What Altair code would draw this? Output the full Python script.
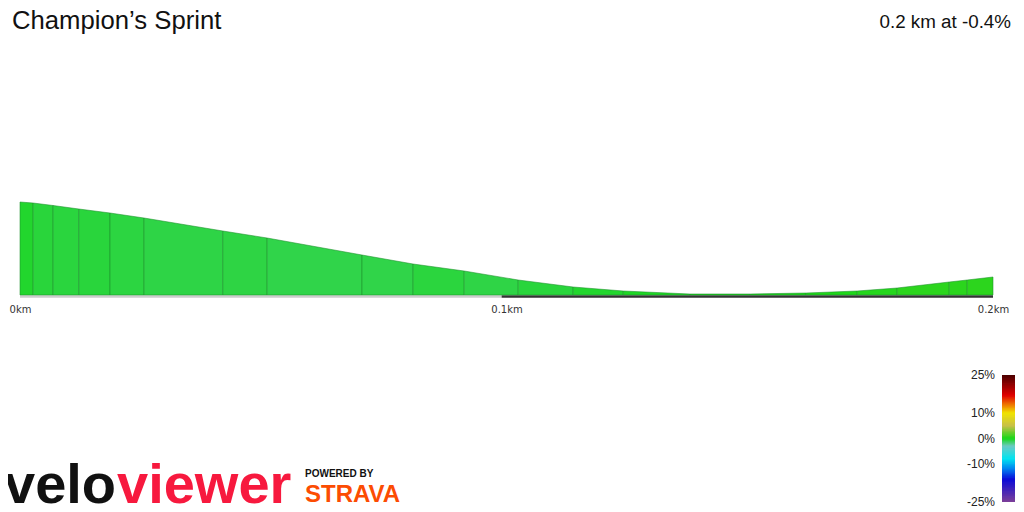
import altair as alt
import pandas as pd

# ---- data ----
title_text = "Champion\u2019s Sprint"
summary_text = "0.2 km at -0.4%"

# segment boundary distances (km) and elevations (m)
dist_km = [0, 0.0027, 0.0068, 0.0121, 0.0185, 0.0255, 0.0417, 0.0508, 0.0703, 0.0808,
           0.0913, 0.1024, 0.1137, 0.1240, 0.1377, 0.1501, 0.1616, 0.1721, 0.1803,
           0.1910, 0.1947, 0.2]
elev_m = [20.93, 20.92, 20.895, 20.86, 20.82, 20.77, 20.64, 20.57, 20.40, 20.31,
          20.24, 20.15, 20.08, 20.04, 20.01, 20.01, 20.02, 20.04, 20.07, 20.13,
          20.15, 20.18]
base_elev = 20.0

# strip under the profile (light part, dark part)
strip_light = [0, 0.099]
strip_dark = [0.099, 0.2]

# gradient colour scale (percent)
grad_domain = [-25, -16, -12, -8, -3, 0, 5, 10, 13, 17, 25]
grad_range = ["#7d3f98", "#0a0ad8", "#0080f0", "#00e4f0", "#6ccac4", "#18d818",
              "#c8c048", "#f0e400", "#f08000", "#e00000", "#4a0000"]
legend_values = [25, 10, 0, -10, -25]
tick_values = [0, 0.1, 0.2]

# ---- build tables ----
rows = []
for i in range(len(dist_km) - 1):
    g = (elev_m[i + 1] - elev_m[i]) / ((dist_km[i + 1] - dist_km[i]) * 1000) * 100
    rows.append({"seg": i, "d": dist_km[i], "e": elev_m[i], "g": g})
    rows.append({"seg": i, "d": dist_km[i + 1], "e": elev_m[i + 1], "g": g})
profile = pd.DataFrame(rows)
profile["base"] = base_elev

light = pd.DataFrame({"x0": [strip_light[0]], "x1": [strip_light[1]], "y": [base_elev]})
dark = pd.DataFrame({"x0": [strip_dark[0]], "x1": [strip_dark[1]], "y": [base_elev]})

steps = [-25 + 0.5 * k for k in range(100)]
leg_bar = pd.DataFrame({"v0": steps, "v1": [min(s + 0.8, 25) for s in steps],
                        "g": [s + 0.25 for s in steps]})
leg_lab = pd.DataFrame({"v": legend_values, "t": [f"{v}%" for v in legend_values]})

xscale = alt.Scale(domain=[0, 0.2], nice=False, zero=False)
yscale = alt.Scale(domain=[20, 22.5], nice=False, zero=False)
cscale = alt.Scale(domain=grad_domain, range=grad_range, clamp=True, interpolate="rgb")
legscale = alt.Scale(domain=[25, -25], range=[330, 457], nice=False, zero=False)

area = alt.Chart(profile).mark_area(
    stroke="#1f8f2c", strokeWidth=0.8, strokeOpacity=0.7, fillOpacity=1
).encode(
    x=alt.X("d:Q", scale=xscale, axis=alt.Axis(
        values=tick_values, labelExpr="datum.value + 'km'", title=None,
        domain=False, ticks=False, grid=False, labelFont="DejaVu Sans",
        labelFontSize=10, labelColor="#333333", labelPadding=9, labelFlush=False)),
    y=alt.Y("e:Q", scale=yscale, axis=None),
    y2="base:Q",
    color=alt.Color("g:Q", scale=cscale, legend=None),
    detail="seg:N",
)


def strip_rule(df, col):
    return alt.Chart(df).mark_rule(strokeWidth=2.5, yOffset=1.5, color=col).encode(
        x=alt.X("x0:Q", scale=xscale), x2="x1:Q",
        y=alt.Y("y:Q", scale=yscale, axis=None))


rule_light = strip_rule(light, "#cccccc")
rule_dark = strip_rule(dark, "#333333")

bar = alt.Chart(leg_bar).mark_rect().encode(
    x=alt.value(982), x2=alt.value(995),
    y=alt.Y("v0:Q", scale=legscale, axis=None), y2="v1:Q",
    color=alt.Color("g:Q", scale=cscale, legend=None),
)
bar_lab = alt.Chart(leg_lab).mark_text(
    align="right", baseline="middle", font="Liberation Sans", fontSize=12,
    color="#222222"
).encode(text="t:N", x=alt.value(975), y=alt.Y("v:Q", scale=legscale, axis=None))


def label(text, x, y, **kw):
    return alt.Chart(pd.DataFrame({"t": [text]})).mark_text(**kw).encode(
        text="t:N", x=alt.value(x), y=alt.value(y))


title = label(title_text, -8, -16, align="left", baseline="alphabetic",
              font="Liberation Sans", fontSize=25.7, color="#111111")
summary = label(summary_text, 991, -17, align="right", baseline="alphabetic",
                font="Liberation Sans", fontSize=18.8, color="#111111")
velo = label("velo", -16, 458, align="left", baseline="alphabetic",
             font="Liberation Sans", fontSize=56, fontWeight="bold", color="#111111")
viewer = label("viewer", 97, 458, align="left", baseline="alphabetic",
               font="Liberation Sans", fontSize=56, fontWeight="bold", color="#f7193e")
powered = label("POWERED BY", 285, 432, align="left", baseline="alphabetic",
                font="Liberation Sans", fontSize=10, fontWeight="bold", color="#111111")
strava = label("STRAVA", 285, 457, align="left", baseline="alphabetic",
               font="Liberation Sans", fontSize=24, fontWeight="bold", color="#fc4c02")

chart = alt.layer(
    rule_light, rule_dark, area, bar, bar_lab, title, summary, velo, viewer,
    powered, strava
).resolve_scale(y="independent").properties(
    width=973, height=250,
    autosize=alt.AutoSizeParams(type="none"),
    padding={"left": 12, "top": 37, "right": 23, "bottom": 217},
).configure_view(stroke=None)

chart.save("out.html", embed_options={"renderer": "svg", "actions": False})
